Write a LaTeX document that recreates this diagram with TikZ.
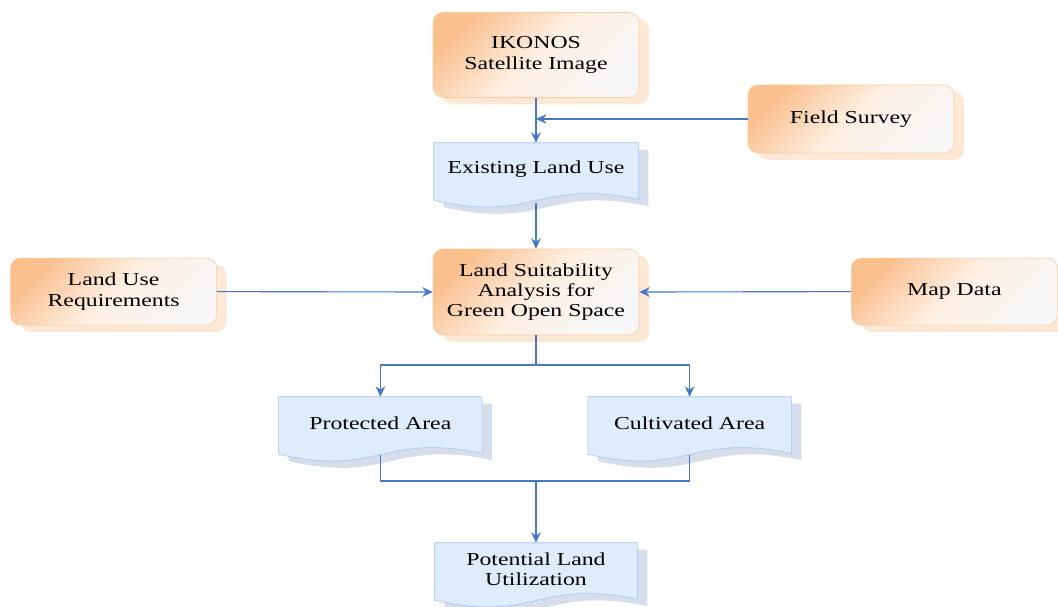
\documentclass[tikz,border=0pt]{standalone}
\usepackage{fontspec}
\newfontfamily\boxfont{Liberation Serif}[FakeStretch=1.3]
\usepackage{tikz}
\usetikzlibrary{positioning,arrows,arrows.meta,shapes,calc,backgrounds,shadows}

\definecolor{orgtop}{RGB}{250,192,142}
\definecolor{orgline}{RGB}{250,203,158}
\definecolor{orgshade}{RGB}{253,232,214}
\definecolor{docfill}{RGB}{223,236,251}
\definecolor{docline}{RGB}{160,198,240}
\definecolor{docshade}{RGB}{214,222,236}
\definecolor{flowblue}{RGB}{72,120,196}

\begin{document}
\begin{tikzpicture}[
  srcnode/.style={rectangle,draw=orgline,rounded corners=0.25cm,
    top color=orgtop,bottom color=white!97!black,middle color=orgtop!25!white,shading angle=45,
    drop shadow={shadow xshift=0.25cm,shadow yshift=-0.17cm,fill=orgshade,opacity=1},
    minimum width=5.15cm,align=center,font=\boxfont\fontsize{13}{14.5}\selectfont},
  docnode/.style={rectangle,inner sep=2pt,minimum width=5.1cm,minimum height=1.3cm,
    align=center,font=\boxfont\fontsize{13}{14.5}\selectfont},
  docpaper/.style={fill=docfill,draw=docline,thin},
  docshadow/.style={fill=docshade},
  flow/.style={-{Stealth[length=2.6mm,width=2.4mm]},thick,flowblue},
  link/.style={thick,flowblue},
]
\useasboundingbox (0,0) rectangle (26.45,-15.15);

% ==== INPUTS ====
\node[srcnode,minimum height=2.125cm] (ikonos) at (13.4,-1.375) {IKONOS\\Satellite Image};
\node[srcnode,minimum height=1.7cm] (field) at (21.275,-2.975) {Field Survey};
\node[srcnode,minimum height=1.675cm] (lur) at (2.84,-7.29) {Land Use\\Requirements};
\node[srcnode,minimum height=1.675cm] (map) at (23.86,-7.29) {Map Data};

% ==== ANALYSIS ====
\node[docnode] (elu) at (13.4,-4.225) {Existing Land Use};
\node[srcnode,minimum height=2.15cm] (lsa) at (13.4,-7.3) {Land Suitability\\Analysis for\\Green Open Space};

% ==== RESULTS ====
\node[docnode,minimum width=5.075cm] (prot) at (9.51,-10.575) {Protected Area};
\node[docnode,minimum width=5.075cm] (cult) at (17.24,-10.575) {Cultivated Area};
\node[docnode,minimum width=5.05cm] (pot) at (13.4,-14.225) {Potential Land\\Utilization};

% document shapes (flat top, wavy bottom)
\begin{scope}[on background layer]
\foreach \n in {elu,prot,cult,pot}{
  \fill[docshadow,transform canvas={shift={(0.25,-0.17)}}] (\n.north west) -- (\n.north east) -- ($(\n.south east)+(0,-0.1)$)
    .. controls ($(\n.south)+(0,0.425)$) and ($(\n.south)+(0,-0.7)$) .. ($(\n.south west)+(0,-0.125)$) -- cycle;
  \filldraw[docpaper] (\n.north west) -- (\n.north east) -- ($(\n.south east)+(0,-0.1)$)
    .. controls ($(\n.south)+(0,0.425)$) and ($(\n.south)+(0,-0.7)$) .. ($(\n.south west)+(0,-0.125)$) -- cycle;
}
\end{scope}

% ==== CONNECTORS ====
\coordinate (split) at (13.4,-9.125);
\coordinate (merge) at (13.4,-12.025);

\draw[flow] (ikonos.south) -- (elu.north);
\draw[flow] (field.west) -- (ikonos.south|-field.west);
\draw[flow] ($(elu.south)+(0,-0.2)$) -- (lsa.north);
\draw[flow] (lur.east) -- (lsa.west);
\draw[flow] (map.west) -- (lsa.east);

\draw[link] (lsa.south) -- (split);
\draw[flow] (split) -| (prot.north);
\draw[flow] (split) -| (cult.north);

\draw[link] ($(prot.south)+(0,-0.15)$) |- (merge) -| ($(cult.south)+(0,-0.15)$);
\draw[flow] (merge) -- (pot.north);

\end{tikzpicture}
\end{document}
